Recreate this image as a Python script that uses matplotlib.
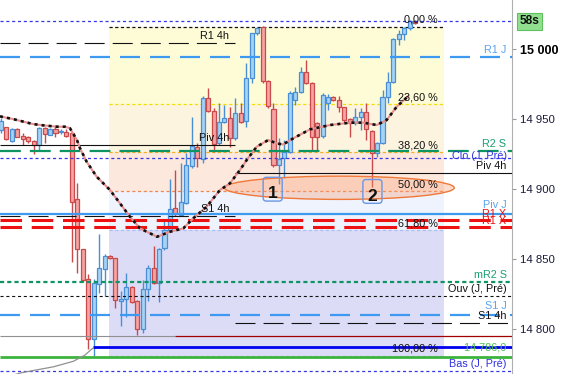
import matplotlib
matplotlib.use("Agg")
import matplotlib.pyplot as plt
from matplotlib.patches import Ellipse, FancyBboxPatch, Rectangle
from matplotlib.transforms import blended_transform_factory

plt.rcParams["font.family"] = ["Liberation Sans", "DejaVu Sans"]
plt.rcParams["lines.scale_dashes"] = False

# candles (one per bar, left to right)
opens = [14942.1, 14944.1, 14934.5, 14942.6, 14937.9, 14936.9, 14934.1, 14931.4, 14943.4, 14938.8,
         14942.6, 14940.7, 14940.9, 14939.8, 14892.6, 14856.9, 14835.5, 14792.6, 14832.1, 14842.6,
         14852.1, 14850.5, 14820.2, 14821.2, 14829.8, 14820.2, 14799.8, 14828.4, 14843.4, 14832.6,
         14857.6, 14870.7, 14886.2, 14881.4, 14890.2, 14916.4, 14930.2, 14921.2, 14964.8, 14955.9,
         14933.1, 14948.1, 14950.5, 14936.2, 14954.1, 14948.8, 14979.1, 15011.2, 15015.9, 14977.4,
         14956.9, 14916.9, 14921.9, 14926.6, 14963.6, 14969.5, 14983.8, 14975.9, 14946.9, 14937.9,
         14961.6, 14965.5, 14963.6, 14958.4, 14949.8, 14946.9, 14951.2, 14955.2, 14941.6, 14925.9,
         14933.1, 14965.9, 14976.6, 15006.9, 15010.7, 15014.8, 15020.0]
highs = [14950.7, 14944.5, 14943.4, 14943.6, 14939.8, 14937.9, 14935.0, 14944.5, 14944.5, 14943.6,
         14945.7, 14943.1, 14942.6, 14940.9, 14904.1, 14857.1, 14839.3, 14835.5, 14867.9, 14853.6,
         14852.9, 14850.5, 14827.1, 14839.8, 14830.7, 14820.7, 14835.0, 14845.7, 14859.3, 14857.9,
         14877.9, 14906.9, 14913.6, 14918.4, 14925.5, 14951.2, 14932.9, 14966.4, 14971.9, 14957.9,
         14961.2, 14960.0, 14958.4, 14964.8, 14961.2, 14989.8, 15011.6, 15015.9, 15016.4, 14977.9,
         14961.2, 14936.2, 14935.0, 14970.0, 14973.1, 14987.4, 14992.1, 14976.4, 14948.1, 14968.6,
         14967.9, 14966.4, 14966.4, 14958.6, 14950.5, 14957.6, 14957.9, 14961.6, 14942.1, 14933.6,
         14970.7, 14983.8, 15007.6, 15013.6, 15015.5, 15020.7, 15020.4]
lows = [14940.0, 14935.0, 14933.8, 14936.9, 14931.4, 14932.6, 14925.0, 14927.4, 14932.9, 14938.4,
        14937.4, 14939.1, 14937.4, 14848.1, 14839.8, 14833.6, 14785.5, 14780.7, 14825.5, 14823.6,
        14850.0, 14814.8, 14802.1, 14808.4, 14818.6, 14795.7, 14797.4, 14820.2, 14832.1, 14819.5,
        14856.4, 14869.3, 14880.7, 14880.7, 14889.3, 14915.0, 14915.9, 14918.6, 14955.0, 14926.6,
        14931.4, 14947.1, 14930.2, 14935.0, 14947.1, 14944.1, 14975.5, 15010.0, 14975.5, 14957.9,
        14915.7, 14903.6, 14907.6, 14925.7, 14960.0, 14968.6, 14975.0, 14927.9, 14927.9, 14936.4,
        14956.4, 14962.9, 14955.2, 14947.1, 14937.4, 14945.7, 14942.1, 14935.0, 14901.6, 14923.1,
        14932.1, 14961.2, 14975.7, 15002.9, 15006.4, 15013.6, 15017.9]
closes = [14948.6, 14935.5, 14942.6, 14937.4, 14935.9, 14934.1, 14931.4, 14943.4, 14939.1, 14942.6,
          14940.2, 14941.4, 14938.1, 14890.9, 14856.9, 14835.0, 14792.6, 14832.6, 14843.4, 14852.1,
          14851.1, 14820.7, 14821.6, 14830.2, 14819.5, 14799.8, 14828.4, 14843.4, 14832.6, 14856.9,
          14870.7, 14885.5, 14882.1, 14890.9, 14917.1, 14930.7, 14921.9, 14964.8, 14955.9, 14932.1,
          14948.1, 14950.5, 14936.2, 14954.1, 14948.1, 14979.1, 15011.2, 15014.8, 14977.4, 14959.3,
          14917.1, 14921.2, 14926.6, 14968.8, 14969.5, 14983.8, 14975.9, 14937.4, 14937.4, 14967.1,
          14965.5, 14963.6, 14958.4, 14949.3, 14946.9, 14951.6, 14955.2, 14942.6, 14925.5, 14933.1,
          14965.9, 14976.6, 15006.9, 15010.7, 15014.8, 15020.0, 15018.4]

# moving average (bar index, price)
ma_x = [-0.18, 2.39, 5.87, 7.71, 10.28, 11.74, 12.66, 13.03, 13.94, 14.5, 15.72, 17.56, 20.0,
        21.83, 23.67, 25.5, 27.34, 28.62, 31.01, 33.45, 35.28, 37.74, 40.18, 42.02, 43.85, 45.08,
        46.92, 49.05, 50.59, 51.74, 53.63, 56.7, 60.37, 64.04, 66.48, 68.94, 70.77, 72.61, 74.73]
ma_y = [14951.9, 14949.8, 14946.4, 14945.5, 14944.5, 14944.5, 14943.4, 14940.9, 14935.0, 14929.1,
        14919.5, 14908.8, 14899.3, 14889.8, 14880.2, 14871.9, 14868.4, 14865.9, 14869.5, 14871.9,
        14879.1, 14887.4, 14899.3, 14904.1, 14913.6, 14920.7, 14930.2, 14935.0, 14932.6, 14931.8,
        14936.2, 14942.6, 14945.7, 14947.4, 14947.4, 14945.7, 14949.3, 14958.8, 14966.4]

# grey curve at the bottom left
curve_x = [2.57, 3.76, 9.69, 13.3, 14.29, 15.4, 16.79]
curve_y = [14767.5, 14768.8, 14773.1, 14777.0, 14779.1, 14781.4, 14786.2]

# fibonacci retracement
fib_high = 15016.0
fib_low = 14780.7
fib_pcts = [0, 23.6, 38.2, 50, 61.8, 100]
fib_texts = ["0,00 %", "23,60 %", "38,20 %", "50,00 %", "61,80 %", "100,00 %"]
fib_start, fib_end = 19.8, 81.3

# horizontal levels
top_line = 15019.8
r1_4h, piv_4h_left, s1_4h_left = 15004.1, 14931.2, 14880.7
piv_4h_right, s1_4h_right = 14911.6, 14804.1
r1_j, piv_j, s1_j = 14994.5, 14882.4, 14810.0
r2_s, mr2_s = 14927.4, 14833.8
r1_x = [14877.9, 14873.1]
clo_prev, ouv_prev, bas_prev = 14921.9, 14823.4, 14770.0
grey_level, blue_level, green_level = 14794.8, 14786.9, 14780.0
split_x = 42.9      # where the 4h segments change
blue_start = 16.9
grey_end = 31.9

ticks = [14800, 14850, 14900, 14950, 15000]
tick_labels = ["14 800", "14 850", "14 900", "14 950", "15 000"]

fig = plt.figure(figsize=(5.62, 3.74), dpi=100)
ax = fig.add_axes([0, 0, 512 / 562, 1])
ax.set_xlim(-0.18, 93.76)
ax.set_ylim(14767.9, 15035)
xmin, xmax = ax.get_xlim()
tr = blended_transform_factory(ax.transAxes, ax.transData)

# fib zones
zone_colors = ["#fefcd7", "#fdf4df", "#fde8dd", "#eff3fd", "#dddcf7"]
fib_prices = [fib_high - p / 100 * (fib_high - fib_low) for p in fib_pcts]
for k in range(5):
    ax.add_patch(Rectangle((fib_start, fib_prices[k + 1]), fib_end - fib_start,
                           fib_prices[k] - fib_prices[k + 1], fc=zone_colors[k], ec="none", zorder=0))
fib_colors = ["#111111", "#f2e000", "#f3b020", "#f08850", "#a8c0f5", "#a8c0f5"]
for price, col, txt in zip(fib_prices, fib_colors, fib_texts):
    ax.plot([fib_start, fib_end], [price, price], color=col, lw=0.9, ls=(0, (2.3, 1.8)), zorder=1)
    ax.annotate(txt, (80.2, price), xytext=(0, 1.5), textcoords="offset points",
                ha="right", va="bottom", fontsize=7.8, color="#111111", zorder=8)


def hline(y, x0, x1, color, lw, ls="-", z=4):
    ax.plot([x0, x1], [y, y], color=color, lw=lw, ls=ls, zorder=z, solid_capstyle="butt")


def rlabel(y, txt, color, dy=1.5):
    ax.annotate(txt, (506.5 / 512, y), xycoords=tr, xytext=(0, dy), textcoords="offset points",
                ha="right", va="bottom", fontsize=7.8, color=color, zorder=8)


def llabel(y, txt):
    ax.annotate(txt, (41.9, y), xytext=(0, 1.5), textcoords="offset points",
                ha="right", va="bottom", fontsize=7.8, color="#111111", zorder=8)


small = (0, (2.2, 2.0))
long_ = (0, (14.4, 7.2))
blue_d = "#3636e6"
light_b = "#3d9af0"
green_d = "#0e9462"

hline(top_line, xmin, xmax, blue_d, 0.9, small)
hline(r1_4h, xmin, split_x, "#111111", 0.8, (0, (14.4, 5.8)))
llabel(r1_4h, "R1 4h")
hline(r1_j, xmin, xmax, light_b, 1.6, long_)
rlabel(r1_j, "R1 J", "#5aa4f0")
hline(piv_4h_left, xmin, split_x, "#111111", 0.8)
llabel(piv_4h_left, "Piv 4h")
hline(r2_s, xmin, xmax, green_d, 1.6, (0, (15.0, 6.5)))
rlabel(r2_s, "R2 S", "#1aa070")
hline(clo_prev, xmin, xmax, blue_d, 0.9, small)
rlabel(clo_prev - 3.2, "Clo (J, Pré)", "#3030e0")
hline(piv_4h_right, split_x, xmax, "#111111", 0.8)
rlabel(piv_4h_right, "Piv 4h", "#111111")
hline(s1_4h_left, xmin, split_x, "#111111", 0.8, (0, (14.4, 5.8)))
llabel(s1_4h_left, "S1 4h")
hline(piv_j, xmin, xmax, light_b, 1.6)
rlabel(piv_j, "Piv J", "#5aa4f0", dy=2.5)
for lv in r1_x:
    hline(lv, xmin, xmax, "#ee1111", 2.2, (0, (15.5, 7.0)))
    rlabel(lv, "R1 X", "#ee1111", dy=0.5)
hline(mr2_s, xmin, xmax, green_d, 1.6, (0, (3.0, 2.2)))
rlabel(mr2_s, "mR2 S", "#1aa070")
hline(ouv_prev, xmin, xmax, "#111111", 0.8, small)
rlabel(ouv_prev, "Ouv (J, Pré)", "#111111")
hline(s1_j, xmin, xmax, light_b, 1.6, long_)
rlabel(s1_j, "S1 J", "#5aa4f0", dy=3.0)
hline(s1_4h_right, split_x, xmax, "#111111", 0.8, (0, (14.4, 5.8)))
rlabel(s1_4h_right, "S1 4h", "#111111")
hline(grey_level, xmin, grey_end, "#909090", 0.8)
hline(grey_level, grey_end, xmax, "#a00000", 0.9)
hline(blue_level, blue_start, xmax, "#0000ee", 2.0)
ax.annotate("14 786,0", (506.5 / 512, blue_level), xycoords=tr, xytext=(0, -4),
            textcoords="offset points", ha="right", va="bottom", fontsize=7.8,
            color="#50c050", zorder=8)
hline(green_level, xmin, xmax, "#3cb43c", 2.0)
hline(bas_prev, xmin, xmax, blue_d, 0.9, small)
rlabel(bas_prev, "Bas (J, Pré)", "#3030e0")

ax.plot(curve_x, curve_y, color="#909090", lw=0.9, zorder=4)

# ellipse zone
ax.add_patch(Ellipse((62.07, 14900.9), 42.2, 16.6, fc=(0.97, 0.62, 0.45, 0.35),
                     ec="#f07838", lw=1.0, zorder=3.5))

# candles
for i, (o, h, l, c) in enumerate(zip(opens, highs, lows, closes)):
    up = c >= o
    edge = "#4a8fd4" if up else "#c84a4a"
    face = "#a6d2f4" if up else "#f5a3a3"
    ax.vlines(i, l, h, color=edge, lw=1.0, zorder=3)
    ax.add_patch(Rectangle((i - 0.37, min(o, c)), 0.74, max(abs(c - o), 0.6),
                           fc=face, ec=edge, lw=0.9, zorder=3.1))

# moving average
ax.plot(ma_x, ma_y, color="#e89090", lw=1.5, zorder=6)
ax.plot(ma_x, ma_y, color="#111111", lw=1.9, ls=(0, (2.2, 2.9)), zorder=6.1)

# numbered boxes
for x0, y0, txt, ty in [(48.1, 14891.4, "1", 14896.9), (66.4, 14889.8, "2", 14894.5)]:
    ax.add_patch(FancyBboxPatch((x0, y0), 3.5, 17.0, boxstyle="round,pad=0,rounding_size=0.6",
                                mutation_aspect=3.9, fc="none", ec="#6a96e6", lw=1.0, zorder=7))
    ax.text(x0 + 1.75, ty, txt, ha="center", va="center", fontsize=12.5,
            fontweight="bold", color="#111111", zorder=8)

# axis
for s in ["top", "left", "bottom"]:
    ax.spines[s].set_visible(False)
ax.spines["right"].set_color("#b0b0b0")
ax.set_xticks([])
ax.yaxis.tick_right()
ax.set_yticks(ticks)
ax.set_yticklabels(tick_labels)
ax.tick_params(axis="y", direction="out", length=3, color="#999999", pad=3,
               labelsize=8.2, labelcolor="#1a1a3a")
for lab in ax.get_yticklabels():
    if lab.get_text() == "15 000":
        lab.set_fontweight("bold")
        lab.set_fontsize(9.0)
        lab.set_color("#000000")

fig.text(529.5 / 562, 1 - 21.3 / 374, "58s", ha="center", va="center", fontsize=8.6,
         fontweight="bold", color="#111111",
         bbox=dict(boxstyle="square,pad=0.2", fc="#90e090", ec="#60c060", lw=0.8))

fig.savefig("out.png", dpi=100)
